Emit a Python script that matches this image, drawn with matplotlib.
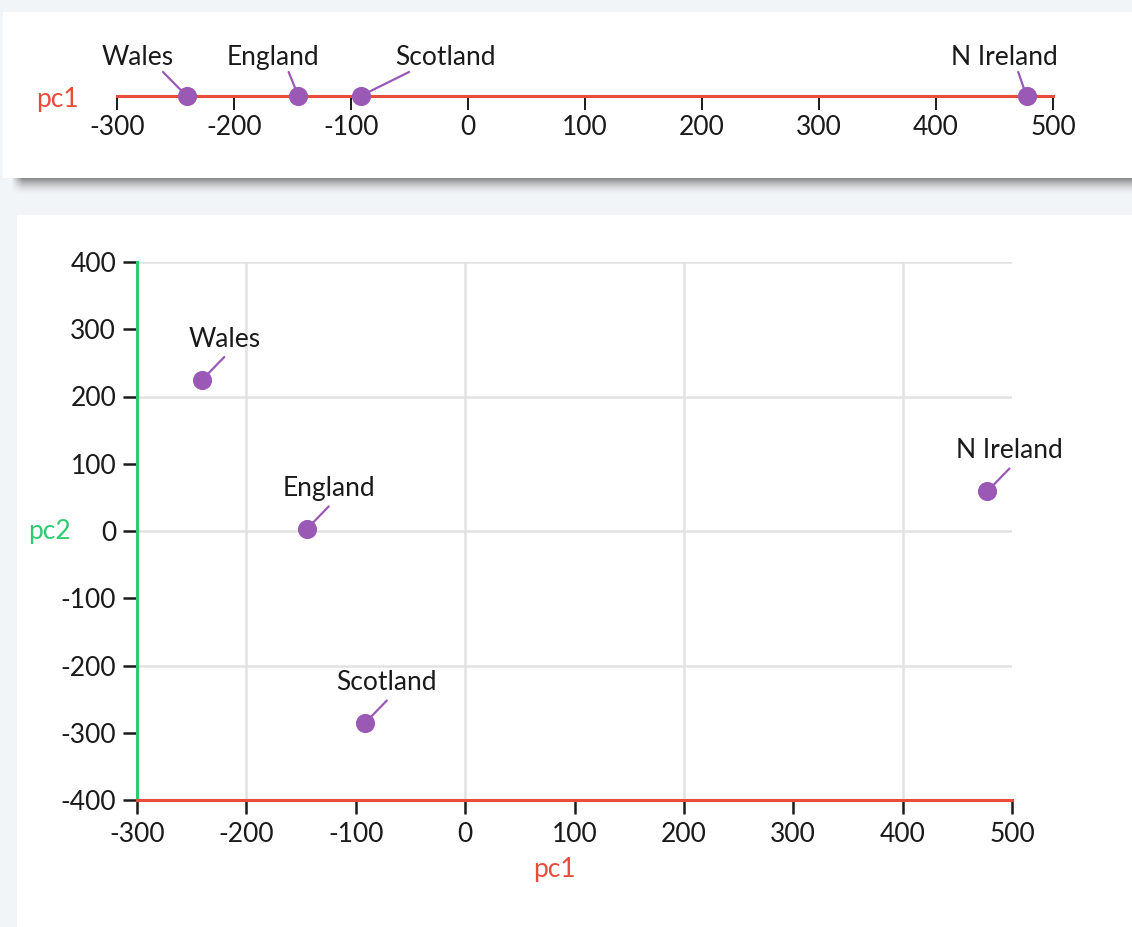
import numpy as np
import matplotlib
matplotlib.use("Agg")
from matplotlib import pyplot as plt
from matplotlib.patches import Rectangle

plt.rcParams['font.family'] = ['Lato', 'DejaVu Sans']
plt.rcParams['axes.unicode_minus'] = False

# PCA scores for the four UK countries
countries = ["England", "Wales", "Scotland", "N Ireland"]
pc1 = [-144.99, -240.53, -91.87, 477.39]
pc2 = [2.53, 224.65, -286.08, 58.90]

x_ticks = [-300, -200, -100, 0, 100, 200, 300, 400, 500]
y_ticks = [-400, -300, -200, -100, 0, 100, 200, 300, 400]
grid_x = [-200, 0, 200, 400]
grid_y = [-200, 0, 200, 400]

# label / leader offsets (points) for the 1-d strip, same order as countries
strip_line_off = [(-7, 17.3), (-17, 17.3), (35, 17.3), (-6, 17.3)]
strip_text_off = [(-18, 22), (-35, 22), (61, 22), (-16, 22)]

RED = '#e74c3c'
GREEN = '#2ecc71'
PURPLE = '#9b59b6'
TXT = '#1a1a1a'
BG = '#f2f5f8'
FS = 19

W, H = 1132, 927
fig = plt.figure(figsize=(W / 100, H / 100), dpi=100, facecolor=BG)


def fx(px):
    return px / W


def fy(py):
    return 1 - py / H


# shadow under the top card
sh = fig.add_axes([fx(10), fy(194), fx(W - 10), fy(170) - fy(194)], zorder=-3)
sh.axis('off')
ny, nx = 24, 400
a_v = np.clip(1 - (np.arange(ny) - 7) / 17, 0, 1) ** 1.6
a_h = np.clip(np.arange(nx) / 4.0, 0, 1)
rgba = np.zeros((ny, nx, 4))
rgba[..., :3] = 0.42
rgba[..., 3] = 0.85 * a_v[:, None] * a_h[None, :]
sh.imshow(rgba, aspect='auto', interpolation='bilinear')

# white cards
fig.patches.append(Rectangle((fx(3), fy(178)), 1, fy(12) - fy(178), transform=fig.transFigure,
                             facecolor='white', edgecolor='none', zorder=-2))
fig.patches.append(Rectangle((fx(17), 0), 1, fy(215), transform=fig.transFigure,
                             facecolor='white', edgecolor='none', zorder=-2))

# ---------- top strip: pc1 only ----------
ax1 = fig.add_axes([fx(117), fy(96), fx(1053) - fx(117), fy(40) - fy(96)])
ax1.patch.set_alpha(0)
for s in ['left', 'right', 'top']:
    ax1.spines[s].set_visible(False)
ax1.spines['bottom'].set_color(RED)
ax1.spines['bottom'].set_linewidth(2.2)
ax1.set_xlim(-300, 500)
ax1.set_ylim(0, 1)
ax1.set_yticks([])
ax1.set_xticks(x_ticks)
ax1.tick_params(axis='x', direction='out', length=10, width=1.4, color=TXT, pad=4,
                labelsize=FS, labelcolor=TXT)
tks = ax1.xaxis.get_major_ticks()
tks[0].tick1line.set_color(RED)
tks[-1].tick1line.set_color(RED)
ax1.scatter(pc1, [0] * len(pc1), s=190, color=PURPLE, zorder=5, clip_on=False, linewidths=0)
for i, name in enumerate(countries):
    ax1.annotate('', xy=(pc1[i], 0), xytext=strip_line_off[i], textcoords='offset points',
                 arrowprops=dict(arrowstyle='-', color=PURPLE, lw=1.6, shrinkA=0, shrinkB=0),
                 annotation_clip=False)
    ax1.annotate(name, xy=(pc1[i], 0), xytext=strip_text_off[i], textcoords='offset points',
                 ha='center', va='baseline', fontsize=FS, color=TXT, annotation_clip=False)
fig.text(fx(57), fy(99), 'pc1', color=RED, fontsize=FS, ha='center', va='center')

# ---------- scatter: pc1 vs pc2 ----------
ax = fig.add_axes([fx(137), fy(800), fx(1012) - fx(137), fy(262) - fy(800)])
ax.patch.set_alpha(0)
ax.set_xlim(-300, 500)
ax.set_ylim(-400, 400)
for s in ['right', 'top']:
    ax.spines[s].set_visible(False)
ax.spines['left'].set_color(GREEN)
ax.spines['left'].set_linewidth(2.2)
ax.spines['bottom'].set_color(RED)
ax.spines['bottom'].set_linewidth(2.2)
ax.spines['left'].set_zorder(3)
ax.spines['bottom'].set_zorder(3)

ax.set_xticks(x_ticks)
ax.set_yticks(y_ticks)
ax.tick_params(direction='out', length=10, width=1.8, color=TXT, labelsize=FS, labelcolor=TXT)
ax.tick_params(axis='x', pad=6)
ax.tick_params(axis='y', pad=5)
xt = ax.xaxis.get_major_ticks()
xt[0].tick1line.set_color(RED)
xt[-1].tick1line.set_color(RED)
yt = ax.yaxis.get_major_ticks()
yt[0].tick1line.set_color(GREEN)
yt[-1].tick1line.set_color(GREEN)

# grid only every 200 units
ax.xaxis.remove_overlapping_locs = False
ax.yaxis.remove_overlapping_locs = False
ax.set_xticks(grid_x, minor=True)
ax.set_yticks(grid_y, minor=True)
ax.tick_params(which='minor', length=0)
ax.grid(which='minor', color='#e2e2e2', linewidth=1.8)
ax.set_axisbelow(True)

ax.scatter(pc1, pc2, s=190, color=PURPLE, zorder=5, clip_on=False, linewidths=0)
for i, name in enumerate(countries):
    ax.annotate('', xy=(pc1[i], pc2[i]), xytext=(16, 16.5), textcoords='offset points',
                arrowprops=dict(arrowstyle='-', color=PURPLE, lw=1.6, shrinkA=0, shrinkB=0),
                annotation_clip=False)
    ax.annotate(name, xy=(pc1[i], pc2[i]), xytext=(16, 24), textcoords='offset points',
                ha='center', va='baseline', fontsize=FS, color=TXT, annotation_clip=False)

ax.text((554 - 137) / 875, -(870 - 800) / 538, 'pc1', transform=ax.transAxes,
        color=RED, fontsize=FS, ha='center', va='center')
ax.text((50 - 137) / 875, 0.5, 'pc2', transform=ax.transAxes,
        color=GREEN, fontsize=FS, ha='center', va='center')

fig.savefig('out.png', dpi=100, facecolor=BG)
